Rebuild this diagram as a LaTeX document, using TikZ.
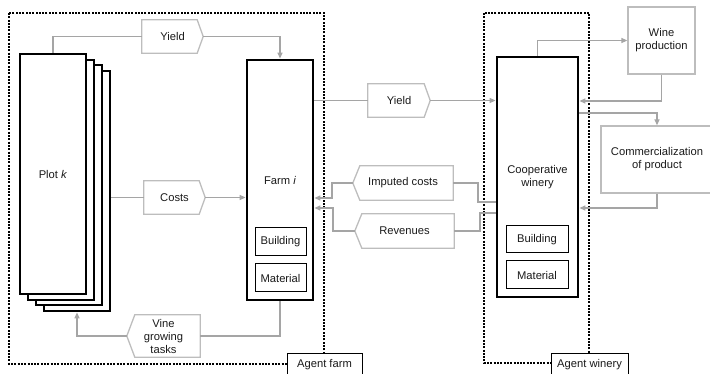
\documentclass[tikz,border=0pt]{standalone}
\usepackage{fontspec}
\setmainfont{Liberation Sans}
\usetikzlibrary{arrows.meta}
\definecolor{lncol}{HTML}{A5A5A5}
\definecolor{bdcol}{HTML}{BDBDBD}
\definecolor{txcol}{HTML}{1A1A1A}
\begin{document}
\begin{tikzpicture}[x=1pt,y=-1pt,
  font=\fontsize{11.2}{13}\selectfont, text=txcol,
  bigbox/.style={draw=black, line width=2.8pt, fill=white, inner sep=0pt},
  smallbox/.style={draw=black, line width=1pt, fill=white, inner sep=0pt},
  graybox/.style={draw=bdcol, line width=1.3pt, fill=white, inner sep=0pt, align=center},
  sigbox/.style={inner sep=0pt, align=center},
  sigline/.style={draw=bdcol, line width=1.3pt},
  conn/.style={draw=lncol, line width=1.3pt},
  arr/.style={conn, -{Triangle[length=6pt,width=5pt]}},
  agentframe/.style={draw=black, line width=1.3pt, dash pattern=on 2pt off 1.3pt},
  agentlabel/.style={draw=black, line width=1pt, fill=white, inner sep=0pt, anchor=north, minimum height=22pt}
]
\useasboundingbox (0,0) rectangle (710,374);

% agent frames
\draw[agentframe] (9,13) rectangle (324,364);
\draw[agentframe] (484,13) rectangle (589,363);
\node[agentlabel, minimum width=75pt] (afarm) at (324.5,353) {Agent farm};
\node[agentlabel, minimum width=77pt] (awinery) at (589.5,353) {Agent winery};

% plot stack
\node[bigbox, minimum width=66pt, minimum height=240pt] (p4) at (77,191) {};
\node[bigbox, minimum width=66pt, minimum height=240pt] (p3) at (69,185) {};
\node[bigbox, minimum width=66pt, minimum height=240pt] (p2) at (61,180) {};
\node[bigbox, minimum width=66pt, minimum height=240pt] (p1) at (53,174) {Plot \textit{k}};

% farm
\node[bigbox, minimum width=66pt, minimum height=240pt] (farm) at (280,180) {Farm \textit{i}};
\node[smallbox, minimum width=51pt, minimum height=28pt] (fbuild) at (280.5,242) {Building};
\node[smallbox, minimum width=51pt, minimum height=28pt] (fmat) at (280.5,278) {Material};

% winery
\node[bigbox, minimum width=81pt, minimum height=240pt, align=center] (winery) at (537.5,177) {Cooperative\\winery};
\node[smallbox, minimum width=62pt, minimum height=27pt] (wbuild) at (537,239.5) {Building};
\node[smallbox, minimum width=62pt, minimum height=28pt] (wmat) at (537,275) {Material};

% gray boxes
\node[graybox, minimum width=67pt, minimum height=67pt] (wine) at (661.5,40.5) {Wine\\production};
\node[graybox, minimum width=112pt, minimum height=67pt] (comm) at (657,159.5) {Commercialization\\of product};

% signal shapes
\node[sigbox, minimum width=61pt, minimum height=33pt] (y1) at (172.5,36.5) {Yield};
\draw[sigline] (y1.north west) -- ([xshift=-6pt]y1.north east) -- (y1.east) -- ([xshift=-6pt]y1.south east) -- (y1.south west) -- cycle;
\node[sigbox, minimum width=61pt, minimum height=33pt] (costs) at (174.5,197.5) {Costs};
\draw[sigline] (costs.north west) -- ([xshift=-6pt]costs.north east) -- (costs.east) -- ([xshift=-6pt]costs.south east) -- (costs.south west) -- cycle;
\node[sigbox, minimum width=62pt, minimum height=33pt] (y2) at (399,100.5) {Yield};
\draw[sigline] (y2.north west) -- ([xshift=-6pt]y2.north east) -- (y2.east) -- ([xshift=-6pt]y2.south east) -- (y2.south west) -- cycle;
\node[sigbox, minimum width=73pt, minimum height=42pt] (vine) at (163.5,336) {Vine\\growing\\tasks};
\draw[sigline] (vine.north east) -- ([xshift=8pt]vine.north west) -- (vine.west) -- ([xshift=8pt]vine.south west) -- (vine.south east) -- cycle;
\node[sigbox, minimum width=100pt, minimum height=34pt] (imp) at (403,183) {Imputed costs};
\draw[sigline] (imp.north east) -- ([xshift=7pt]imp.north west) -- (imp.west) -- ([xshift=7pt]imp.south west) -- (imp.south east) -- cycle;
\node[sigbox, minimum width=99pt, minimum height=34pt] (rev) at (404.5,231) {Revenues};
\draw[sigline] (rev.north east) -- ([xshift=7pt]rev.north west) -- (rev.west) -- ([xshift=7pt]rev.south west) -- (rev.south east) -- cycle;

% connectors
\draw[conn] (p1.north) |- (y1.west);
\draw[arr] (y1.east) -| (farm.north);
\draw[conn] (p4.east |- costs.west) -- (costs.west);
\draw[arr] (costs.east) -- (farm.west |- costs.east);
\draw[conn] (farm.south) |- (vine.east);
\draw[arr] (vine.west) -| (p4.south);
\draw[conn] (farm.east |- y2.west) -- (y2.west);
\draw[arr] (y2.east) -- (winery.west |- y2.east);
\draw[conn] (winery.west |- 0,202) -- (478,202) |- (imp.east);
\draw[arr] (imp.west) -- (332,183) |- (farm.east |- 0,198);
\draw[conn] (winery.west |- 0,213) -- (480,213) |- (rev.east);
\draw[arr] (rev.west) -- (333,231) |- (farm.east |- 0,208);
\draw[arr] (winery.north) |- (wine.west);
\draw[arr] (wine.south) |- (winery.east |- 0,101);
\draw[arr] (winery.east |- 0,113) -| (comm.north);
\draw[arr] (comm.south) |- (winery.east |- 0,208);
\end{tikzpicture}
\end{document}
